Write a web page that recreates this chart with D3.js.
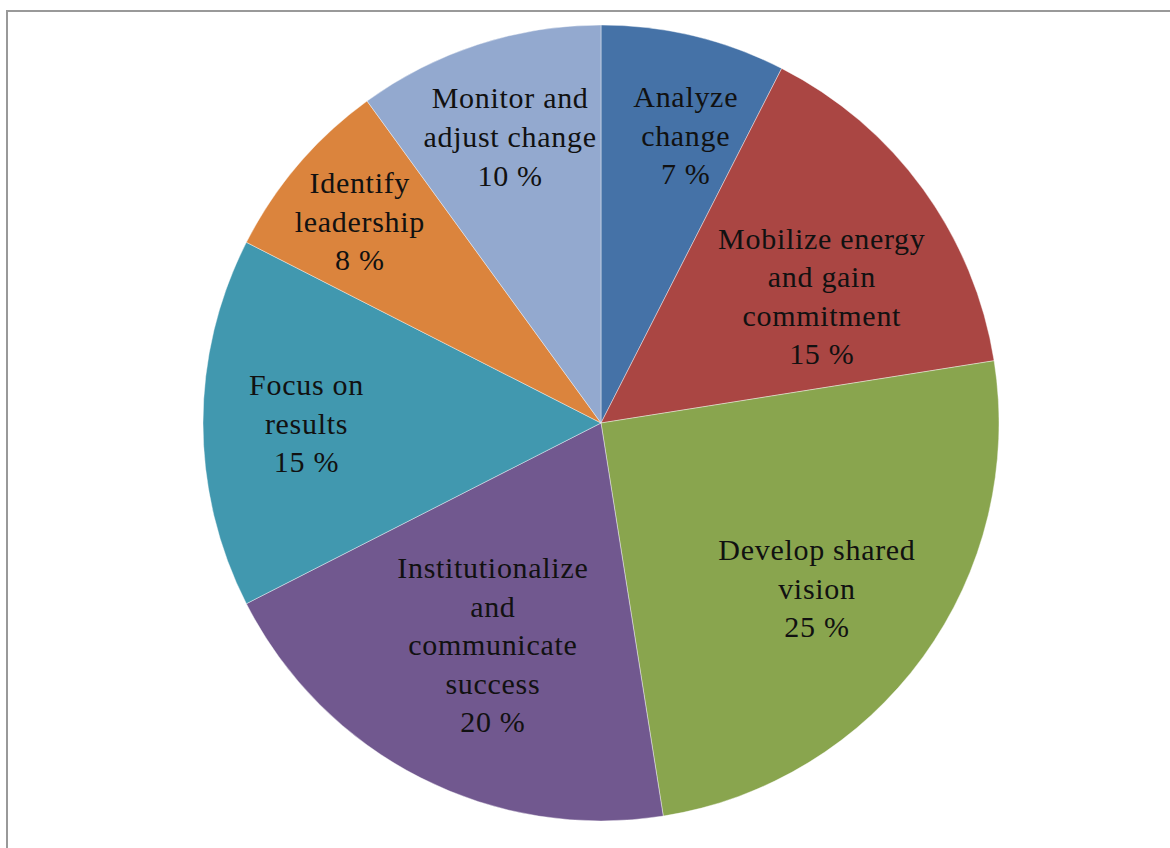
<!DOCTYPE html>
<html>
<head>
<meta charset="utf-8">
<script src="https://cdn.jsdelivr.net/npm/d3@7"></script>
<style>
  html, body { margin: 0; padding: 0; background: #fff; overflow: hidden; }
  text { font-family: "Liberation Serif", "DejaVu Serif", serif; }
</style>
</head>
<body>
<script>
// slice data, clockwise from 12 o'clock
var categories = [
    ["Analyze", "change"],
    ["Mobilize energy", "and gain", "commitment"],
    ["Develop shared", "vision"],
    ["Institutionalize", "and", "communicate", "success"],
    ["Focus on", "results"],
    ["Identify", "leadership"],
    ["Monitor and", "adjust change"]
];
var values = [7.5, 15, 25, 20, 15, 7.5, 10];
var pctLabels = ["7 %", "15 %", "25 %", "20 %", "15 %", "8 %", "10 %"];
var colors = ["#4572a7", "#aa4643", "#89a54e", "#71588f", "#4198af", "#db843d", "#93a9cf"];

var w = 1170,
    h = 848;

var cx = 601, cy = 423, r = 398;
// label placement: fraction of radius and small angle nudge (deg), like excel's best fit
var labelPos = [0.754, 0.64, 0.683, 0.62, 0.74, 0.79, 0.755];
var labelNudge = [2.9, 6.1, 1.4, -1.0, 0, -0.6, 0.4];
var lineH = 38.6;

var svg = d3.select("body").append("svg")
    .attr("width", w)
    .attr("height", h);

// frame
svg.append("rect")
    .attr("x", 7)
    .attr("y", 11)
    .attr("width", w + 20)
    .attr("height", h + 20)
    .attr("fill", "none")
    .attr("stroke", "#999")
    .attr("stroke-width", 2);

var pie = d3.pie()
    .sort(null)
    .value(function (d) { return d; });

var arcs = pie(values);

var arc = d3.arc()
    .innerRadius(0)
    .outerRadius(r);

var g = svg.append("g")
    .attr("transform", "translate(" + cx + "," + cy + ")");

g.selectAll("path")
    .data(arcs)
    .enter().append("path")
    .attr("d", arc)
    .attr("fill", function (d, i) { return colors[i]; })
    .attr("stroke", "rgba(255,255,255,0.5)")
    .attr("stroke-width", 0.8);

g.selectAll("text")
    .data(arcs)
    .enter().append("text")
    .attr("text-anchor", "middle")
    .attr("font-size", 30)
    .attr("letter-spacing", 0.7)
    .attr("fill", "#111")
    .each(function (d, i) {
        var lr = r * labelPos[i];
        var a = (d.startAngle + d.endAngle) / 2 + labelNudge[i] * Math.PI / 180;
        var x = lr * Math.sin(a),
            y = -lr * Math.cos(a);
        var lines = categories[i].concat([pctLabels[i]]);
        var y0 = y - (lines.length - 1) * lineH / 2;
        var t = d3.select(this);
        lines.forEach(function (s, k) {
            t.append("tspan")
                .attr("x", x)
                .attr("y", y0 + k * lineH)
                .attr("dy", "0.35em")
                .text(s);
        });
    });
</script>
</body>
</html>
